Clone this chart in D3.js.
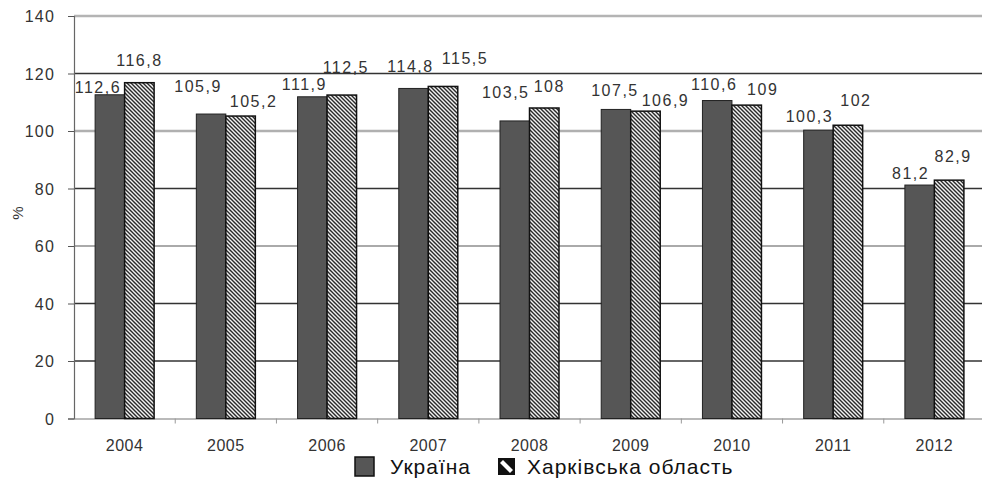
<!DOCTYPE html>
<html>
<head>
<meta charset="utf-8">
<script src="https://cdn.jsdelivr.net/npm/d3@7"></script>
<style>
  body { margin: 0; background: #fff; }
  text { font-family: Arial, "Liberation Sans", sans-serif; }
</style>
</head>
<body>
<div id="chart"></div>
<script>
// Data
const years = ["2004", "2005", "2006", "2007", "2008", "2009", "2010", "2011", "2012"];
const ukraine = [112.6, 105.9, 111.9, 114.8, 103.5, 107.5, 110.6, 100.3, 81.2];
const kharkiv = [116.8, 105.2, 112.5, 115.5, 108, 106.9, 109, 102, 82.9];
const seriesNames = ["Україна", "Харківська область"];
const yTicks = [0, 20, 40, 60, 80, 100, 120, 140];

// Label nudges (px) as placed in the original, [dx, dy] from bar top centre
const labelShiftUa = [[-12, -2], [-13, -22], [-8, -7], [-3, -16], [-9, -23], [-1, -13], [-3, -11], [-9, -8], [-9, -6]];
const labelShiftKh = [[0, -17], [13, -9], [4, -22], [22, -22], [5, -16], [20, -5], [16, -10], [8, -19], [4, -18]];

const width = 982, height = 481;
const margin = { left: 74, right: -3, top: 16, bottom: 61 };

const svg = d3.select("#chart").append("svg")
  .attr("width", width)
  .attr("height", height);

// hatch pattern for the oblast bars
const defs = svg.append("defs");
const pat = defs.append("pattern")
  .attr("id", "hatch")
  .attr("patternUnits", "userSpaceOnUse")
  .attr("width", 4).attr("height", 4);
pat.append("rect").attr("width", 4).attr("height", 4).attr("fill", "#f2f2f2");
pat.append("path")
  .attr("d", "M-1,-1 L5,5 M-1,3 L1,5 M3,-1 L5,1")
  .attr("stroke", "#2a2a2a").attr("stroke-width", 1.4);

const x = d3.scaleBand()
  .domain(years)
  .range([margin.left, width - margin.right]);

const x1 = d3.scaleBand()
  .domain([0, 1])
  .range([0, 59]);

const y = d3.scaleLinear()
  .domain([0, 140])
  .range([height - margin.bottom - 1.5, margin.top]);

// gridlines: alternating grey / dark as in the scan
const gridStyle = { 140: ["#b4b4b4", 2.5], 120: ["#333", 1.6], 100: ["#b0b0b0", 2.4], 80: ["#333", 1.3], 60: ["#aaa", 2.2], 40: ["#333", 1.3], 20: ["#333", 1.3] };
svg.append("g")
  .selectAll("line")
  .data(yTicks.filter(d => d > 0))
  .join("line")
  .attr("x1", margin.left).attr("x2", width)
  .attr("y1", d => y(d)).attr("y2", d => y(d))
  .attr("stroke", d => gridStyle[d][0])
  .attr("stroke-width", d => gridStyle[d][1]);

// y axis (line + ticks from d3, labels drawn below)
const yAxis = svg.append("g")
  .attr("transform", `translate(${margin.left},0)`)
  .call(d3.axisLeft(y).tickValues(yTicks).tickSize(6).tickFormat(""));
yAxis.select(".domain").attr("stroke", "#666").attr("stroke-width", 1.2);
yAxis.selectAll(".tick line").attr("stroke", "#555");

svg.append("g")
  .attr("font-size", 16)
  .attr("letter-spacing", 1.2)
  .attr("fill", "#333")
  .attr("text-anchor", "end")
  .selectAll("text")
  .data(yTicks)
  .join("text")
  .attr("x", margin.left - 19)
  .attr("y", d => y(d) + 6)
  .text(d => d);

// x axis
const xAxis = svg.append("g")
  .attr("transform", `translate(0,${y(0)})`)
  .call(d3.axisBottom(x).tickSize(0).tickFormat(""));
xAxis.select(".domain").attr("stroke", "#777").attr("stroke-width", 1.2);
svg.append("g")
  .selectAll("line")
  .data(years.slice(1))
  .join("line")
  .attr("x1", d => x(d)).attr("x2", d => x(d))
  .attr("y1", y(0)).attr("y2", y(0) + 5)
  .attr("stroke", "#999");

svg.append("g")
  .attr("font-size", 16)
  .attr("letter-spacing", 0.5)
  .attr("fill", "#333")
  .attr("text-anchor", "middle")
  .selectAll("text")
  .data(years)
  .join("text")
  .attr("x", d => x(d) + x.bandwidth() / 2)
  .attr("y", y(0) + 32)
  .text(d => d);

// y title
svg.append("g")
  .attr("font-size", 15)
  .attr("fill", "#333")
  .append("text")
  .attr("transform", "translate(23,213) rotate(-90)")
  .attr("text-anchor", "middle")
  .text("%");

const groupOffset = (x.bandwidth() - 59) / 2;

// bars
const barG = svg.append("g");
barG.selectAll("rect.ua")
  .data(ukraine)
  .join("rect")
  .attr("class", "ua")
  .attr("x", (d, i) => x(years[i]) + groupOffset + x1(0))
  .attr("y", d => y(d))
  .attr("width", x1.bandwidth())
  .attr("height", d => y(0) - y(d))
  .attr("fill", "#565656")
  .attr("stroke", "#222")
  .attr("stroke-width", 1);

barG.selectAll("rect.kh")
  .data(kharkiv)
  .join("rect")
  .attr("class", "kh")
  .attr("x", (d, i) => x(years[i]) + groupOffset + x1(1))
  .attr("y", d => y(d))
  .attr("width", x1.bandwidth())
  .attr("height", d => y(0) - y(d))
  .attr("fill", "url(#hatch)")
  .attr("stroke", "#111")
  .attr("stroke-width", 1.5);

// value labels
const fmt = v => String(v).replace(".", ",");
const labelG = svg.append("g")
  .attr("font-size", 16)
  .attr("letter-spacing", 1.5)
  .attr("fill", "#333")
  .attr("text-anchor", "middle");

labelG.selectAll("text.ua")
  .data(ukraine)
  .join("text")
  .attr("class", "ua")
  .attr("x", (d, i) => x(years[i]) + groupOffset + x1(0) + x1.bandwidth() / 2 + labelShiftUa[i][0])
  .attr("y", (d, i) => y(d) + labelShiftUa[i][1])
  .text(fmt);

labelG.selectAll("text.kh")
  .data(kharkiv)
  .join("text")
  .attr("class", "kh")
  .attr("x", (d, i) => x(years[i]) + groupOffset + x1(1) + x1.bandwidth() / 2 + labelShiftKh[i][0])
  .attr("y", (d, i) => y(d) + labelShiftKh[i][1])
  .text(fmt);

// legend
const legend = svg.append("g").attr("transform", "translate(355,457)");
legend.append("rect")
  .attr("x", 0).attr("y", 0).attr("width", 19).attr("height", 19)
  .attr("fill", "#565656").attr("stroke", "#111").attr("stroke-width", 1.5);
legend.append("text")
  .attr("x", 35).attr("y", 17)
  .attr("font-size", 21).attr("letter-spacing", 1).attr("fill", "#111")
  .text(seriesNames[0]);

const lg2 = legend.append("g").attr("transform", "translate(143,1)");
lg2.append("rect")
  .attr("width", 17).attr("height", 17).attr("fill", "#111");
lg2.append("path")
  .attr("d", "M2,5 L5,2 L15,12 L12,15 Z")
  .attr("fill", "#fff");
legend.append("text")
  .attr("x", 172).attr("y", 17)
  .attr("font-size", 21).attr("letter-spacing", 1).attr("fill", "#111")
  .text(seriesNames[1]);
</script>
</body>
</html>
